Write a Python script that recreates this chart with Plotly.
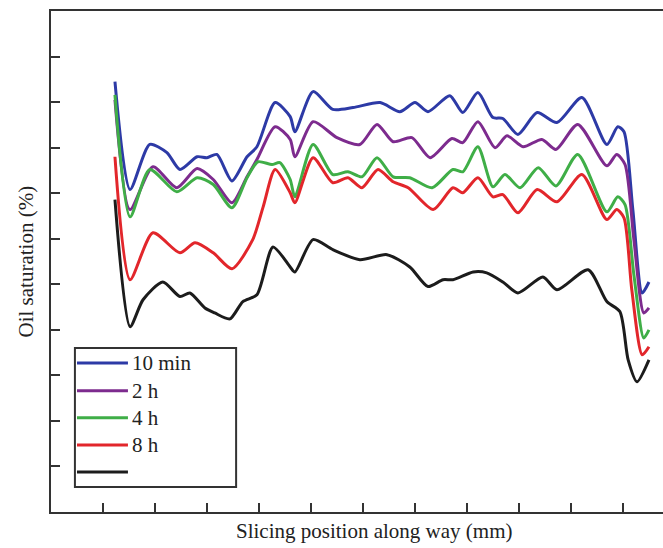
import plotly.graph_objects as go

# ---- data ----
names = ["10 min", "2 h", "4 h", "8 h", ""]
colors = ["#2d3aa6", "#7d2b8e", "#3fae47", "#e2262b", "#1c1c1c"]

x_10min = [1.23, 1.52, 1.90, 2.23, 2.48, 2.81, 3.00, 3.19, 3.48, 3.77, 3.96, 4.31, 4.60, 4.69,
           5.04, 5.42, 5.81, 6.33, 6.71, 7.00, 7.25, 7.67, 7.92, 8.21, 8.50, 8.69, 8.98, 9.35,
           9.73, 10.21, 10.69, 10.90, 11.02, 11.19, 11.37, 11.50]
y_10min = [9.45, 7.08, 8.07, 7.89, 7.52, 7.80, 7.78, 7.85, 7.27, 7.80, 8.02, 8.99, 8.68, 8.35,
           9.23, 8.84, 8.88, 8.99, 8.79, 8.99, 8.79, 9.14, 8.77, 9.21, 8.66, 8.64, 8.29, 8.77,
           8.55, 9.10, 8.07, 8.46, 8.35, 6.64, 4.81, 5.05]

x_2h = [1.23, 1.52, 1.96, 2.42, 2.81, 3.12, 3.48, 3.77, 3.96, 4.31, 4.60, 4.69, 5.04, 5.50,
        5.94, 6.27, 6.58, 6.94, 7.29, 7.71, 7.92, 8.21, 8.54, 8.77, 9.08, 9.44, 9.71, 10.13,
        10.69, 10.88, 11.04, 11.21, 11.40, 11.50]
y_2h = [9.05, 6.64, 7.58, 7.12, 7.54, 7.30, 6.79, 7.36, 7.74, 8.46, 8.18, 7.80, 8.57, 8.22,
        8.07, 8.51, 8.13, 8.22, 7.78, 8.20, 8.11, 8.57, 8.00, 8.26, 8.02, 8.18, 7.96, 8.51,
        7.60, 7.85, 7.63, 5.98, 4.37, 4.48]

x_4h = [1.23, 1.52, 1.90, 2.42, 2.81, 3.12, 3.48, 3.77, 3.98, 4.25, 4.40, 4.60, 4.69, 5.04,
        5.42, 5.71, 5.98, 6.27, 6.58, 6.90, 7.33, 7.73, 7.92, 8.21, 8.50, 8.73, 9.02, 9.37,
        9.71, 10.13, 10.69, 10.90, 11.04, 11.21, 11.40, 11.50]
y_4h = [9.16, 6.48, 7.52, 7.03, 7.34, 7.19, 6.68, 7.34, 7.69, 7.63, 7.67, 7.30, 6.92, 8.07,
        7.41, 7.47, 7.36, 7.78, 7.36, 7.34, 7.12, 7.52, 7.47, 8.02, 7.14, 7.41, 7.12, 7.56,
        7.16, 7.85, 6.59, 6.92, 6.75, 5.21, 3.82, 4.00]

x_8h = [1.23, 1.52, 1.96, 2.48, 2.77, 3.12, 3.48, 3.88, 4.08, 4.31, 4.60, 4.69, 5.04, 5.42,
        5.71, 5.98, 6.29, 6.58, 6.87, 7.35, 7.73, 7.92, 8.21, 8.50, 8.69, 8.98, 9.35, 9.73,
        10.21, 10.69, 10.88, 11.02, 11.17, 11.37, 11.50]
y_8h = [7.80, 5.10, 6.13, 5.69, 5.91, 5.69, 5.34, 5.98, 6.70, 7.52, 7.01, 6.79, 7.78, 7.23,
        7.34, 7.12, 7.52, 7.25, 7.12, 6.64, 7.12, 7.01, 7.34, 6.92, 6.97, 6.57, 7.08, 6.81,
        7.41, 6.42, 6.64, 6.46, 4.88, 3.45, 3.63]

x_black = [1.23, 1.52, 1.77, 2.15, 2.48, 2.67, 2.96, 3.15, 3.44, 3.69, 3.96, 4.27, 4.60, 4.69,
           5.04, 5.42, 5.94, 6.46, 6.90, 7.25, 7.54, 7.73, 8.12, 8.38, 8.69, 8.98, 9.46, 9.73,
           10.33, 10.69, 10.94, 11.10, 11.27, 11.50]
y_black = [6.86, 4.07, 4.66, 5.05, 4.73, 4.81, 4.48, 4.37, 4.24, 4.62, 4.77, 5.82, 5.38, 5.27,
           5.98, 5.76, 5.54, 5.65, 5.38, 4.95, 5.10, 5.10, 5.27, 5.25, 5.05, 4.81, 5.16, 4.88,
           5.32, 4.62, 4.40, 3.34, 2.86, 3.34]

x_ticks = [1, 2, 3, 4, 5, 6, 7, 8, 9, 10, 11]
y_ticks = [1, 2, 3, 4, 5, 6, 7, 8, 9, 10]

series = [(x_10min, y_10min), (x_2h, y_2h), (x_4h, y_4h), (x_8h, y_8h), (x_black, y_black)]

fig = go.Figure()
for (xs, ys), n, c in zip(series, names, colors):
    fig.add_trace(go.Scatter(x=xs, y=ys, mode="lines", name=n,
                             line=dict(color=c, width=3, shape="spline", smoothing=0.7),
                             showlegend=False, hoverinfo="skip"))

axis_col = "#333333"
serif = "Liberation Serif"
fsize = 21

fig.update_layout(
    width=663, height=548,
    margin=dict(l=51, r=0, t=11, b=36),
    paper_bgcolor="white", plot_bgcolor="white",
    xaxis=dict(range=[0, 11.77], tickvals=x_ticks, showticklabels=False, ticks="inside",
               ticklen=9, tickwidth=2, tickcolor=axis_col, showline=True, linewidth=2,
               linecolor=axis_col, mirror=True, showgrid=False, zeroline=False),
    yaxis=dict(range=[0, 11], tickvals=y_ticks, showticklabels=False, ticks="inside",
               ticklen=9, tickwidth=2, tickcolor=axis_col, showline=True, linewidth=2,
               linecolor=axis_col, showgrid=False, zeroline=False),
)

# axis titles
fig.add_annotation(text="Slicing position along way (mm)", xref="paper", yref="paper",
                   x=(374 - 51) / 612, y=-(531 - 512) / 501, showarrow=False,
                   font=dict(family=serif, size=fsize, color="#222"), xanchor="center", yanchor="middle")
fig.add_annotation(text="Oil saturation (%)", xref="paper", yref="paper",
                   x=-(51 - 25) / 612, y=0.5, showarrow=False, textangle=-90,
                   font=dict(family=serif, size=fsize, color="#222"), xanchor="center", yanchor="middle")

# custom legend box
fig.add_shape(type="rect", xref="x", yref="y", x0=0.46, x1=3.56, y0=0.55, y1=3.60,
              line=dict(color=axis_col, width=2), fillcolor="white", layer="above")
leg_y = [3.27, 2.66, 2.07, 1.47, 0.88]
for n, c, ly in zip(names, colors, leg_y):
    fig.add_shape(type="line", xref="x", yref="y", x0=0.50, x1=1.48, y0=ly, y1=ly,
                  line=dict(color=c, width=3), layer="above")
    if n:
        fig.add_annotation(text=n, xref="x", yref="y", x=1.52, y=ly, showarrow=False,
                           xanchor="left", yanchor="middle",
                           font=dict(family=serif, size=fsize, color="#222"))

fig.write_html("out.html", config={"displayModeBar": False},
               post_script="document.body.style.margin='0px';document.body.style.overflow='hidden';")
